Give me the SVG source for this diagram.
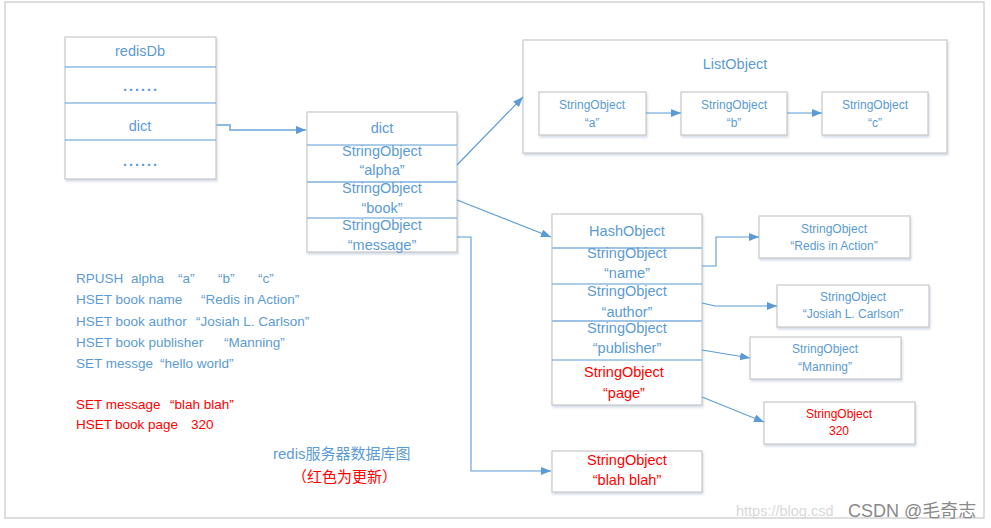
<svg xmlns="http://www.w3.org/2000/svg" width="991" height="528" viewBox="0 0 991 528">
<defs>
<marker id="arr" markerUnits="userSpaceOnUse" markerWidth="12" markerHeight="10" refX="10" refY="4" orient="auto"><path d="M0,0 L10,4 L0,8 z" fill="#5b9bd5"/></marker>
<filter id="sh" x="-5%" y="-5%" width="115%" height="120%"><feDropShadow dx="1" dy="2" stdDeviation="1.2" flood-color="#9fb4cc" flood-opacity="0.45"/></filter>
</defs>
<style>
text{font-family:"Liberation Sans",Arial,"Noto Sans CJK SC",sans-serif;fill:#5b9bd5;}
.c{text-anchor:middle;}
.big{font-size:14.5px;}
.sm{font-size:12px;}
.cmd{font-size:13.5px;white-space:pre;}
.cap{font-size:15px;}
.red{fill:#ff0000;}
.dots{letter-spacing:2px;font-weight:bold;}
.box{fill:#ffffff;stroke:#c9c9c9;stroke-width:1.2;filter:url(#sh);}
.div{stroke:#5b9bd5;stroke-width:1.2;}
.div2{stroke:#9dc3e6;stroke-width:2;}
.con{fill:none;stroke:#5b9bd5;stroke-width:1.1;}
.con2{fill:none;stroke:#8fbbe3;stroke-width:2;}
</style>
<rect x="0" y="0" width="991" height="528" fill="#ffffff"/>
<rect x="5" y="2" width="979" height="516" fill="#ffffff" stroke="#d4d4d4" stroke-width="1.5"/>

<g id="redisDb">
<rect class="box" x="65" y="37" width="151" height="142"/>
<line class="div" x1="65" y1="67" x2="216" y2="67"/>
<line class="div" x1="65" y1="103" x2="216" y2="103"/>
<line class="div" x1="65" y1="140" x2="216" y2="140"/>
<text class="c big" x="140" y="56">redisDb</text>
<text class="c big dots" x="141" y="91">......</text>
<text class="c big" x="140" y="131">dict</text>
<text class="c big dots" x="141" y="166">......</text>
</g>

<g id="dict">
<rect class="box" x="307" y="112" width="150" height="140"/>
<line class="div" x1="307" y1="145" x2="457" y2="145"/>
<line class="div2" x1="307" y1="182" x2="457" y2="182"/>
<line class="div" x1="307" y1="218" x2="457" y2="218"/>
<text class="c big" x="382" y="133">dict</text>
<text class="c big" x="382" y="156">StringObject</text>
<text class="c big" x="382" y="175">“alpha”</text>
<text class="c big" x="382" y="193">StringObject</text>
<text class="c big" x="382" y="213">“book”</text>
<text class="c big" x="382" y="230">StringObject</text>
<text class="c big" x="382" y="250">“message”</text>
</g>

<g id="ListObject">
<rect class="box" x="523" y="40" width="424" height="113"/>
<text class="c big" x="735" y="69">ListObject</text>
</g>
<g id="list_a">
<rect class="box" x="539" y="92" width="107" height="43"/>
<text class="c sm" x="592" y="109">StringObject</text>
<text class="c sm" x="592" y="127">“a”</text>
</g>
<g id="list_b">
<rect class="box" x="681" y="92" width="106" height="43"/>
<text class="c sm" x="734" y="109">StringObject</text>
<text class="c sm" x="734" y="127">“b”</text>
</g>
<g id="list_c">
<rect class="box" x="822" y="92" width="106" height="43"/>
<text class="c sm" x="875" y="109">StringObject</text>
<text class="c sm" x="875" y="127">“c”</text>
</g>

<g id="HashObject">
<rect class="box" x="552" y="214" width="150" height="191"/>
<line class="div2" x1="552" y1="248" x2="702" y2="248"/>
<line class="div" x1="552" y1="284" x2="702" y2="284"/>
<line class="div2" x1="552" y1="321" x2="702" y2="321"/>
<line class="div" x1="552" y1="360" x2="702" y2="360"/>
<text class="c big" x="627" y="236">HashObject</text>
<text class="c big" x="627" y="258">StringObject</text>
<text class="c big" x="627" y="278">“name”</text>
<text class="c big" x="627" y="296">StringObject</text>
<text class="c big" x="627" y="317">“author”</text>
<text class="c big" x="627" y="333">StringObject</text>
<text class="c big" x="627" y="353">“publisher”</text>
<text class="c big red" x="624" y="377">StringObject</text>
<text class="c big red" x="624" y="398">“page”</text>
</g>

<g id="val_name">
<rect class="box" x="759" y="216" width="151" height="42"/>
<text class="c sm" x="834" y="233">StringObject</text>
<text class="c sm" x="834" y="250">“Redis in Action”</text>
</g>
<g id="val_author">
<rect class="box" x="777" y="285" width="152" height="42"/>
<text class="c sm" x="853" y="301">StringObject</text>
<text class="c sm" x="853" y="318">“Josiah L. Carlson”</text>
</g>
<g id="val_publisher">
<rect class="box" x="750" y="337" width="151" height="42"/>
<text class="c sm" x="825" y="353">StringObject</text>
<text class="c sm" x="825" y="371">“Manning”</text>
</g>
<g id="val_page">
<rect class="box" x="764" y="402" width="151" height="42"/>
<text class="c sm red" x="839" y="418">StringObject</text>
<text class="c sm red" x="839" y="435">320</text>
</g>
<g id="val_message">
<rect class="box" x="552" y="451" width="150" height="41"/>
<text class="c big red" x="627" y="465">StringObject</text>
<text class="c big red" x="627" y="485">“blah blah”</text>
</g>

<g id="connectors">
<polyline class="con2" points="216,125 230,125 230,130 306,130" marker-end="url(#arr)"/>
<line class="con" x1="457" y1="165" x2="523" y2="97" marker-end="url(#arr)"/>
<line class="con" x1="457" y1="200" x2="551" y2="237" marker-end="url(#arr)"/>
<polyline class="con" points="457,237 471,237 471,471 551,471" marker-end="url(#arr)"/>
<line class="con" x1="646" y1="113" x2="681" y2="113" marker-end="url(#arr)"/>
<line class="con" x1="787" y1="113" x2="822" y2="113" marker-end="url(#arr)"/>
<polyline class="con" points="702,266 716,266 716,237 759,237" marker-end="url(#arr)"/>
<polyline class="con" points="702,303 715,306 777,306" marker-end="url(#arr)"/>
<line class="con" x1="702" y1="350" x2="750" y2="358" marker-end="url(#arr)"/>
<line class="con" x1="702" y1="397" x2="764" y2="422" marker-end="url(#arr)"/>
</g>

<g id="commands">
<text class="cmd" y="283"><tspan x="76">RPUSH</tspan><tspan x="131">alpha</tspan><tspan x="178">“a”</tspan><tspan x="218">“b”</tspan><tspan x="258">“c”</tspan></text>
<text class="cmd" y="304"><tspan x="76">HSET book name</tspan><tspan x="201">“Redis in Action”</tspan></text>
<text class="cmd" y="326"><tspan x="76">HSET book author</tspan><tspan x="196">“Josiah L. Carlson”</tspan></text>
<text class="cmd" y="347"><tspan x="76">HSET book publisher</tspan><tspan x="224">“Manning”</tspan></text>
<text class="cmd" y="368"><tspan x="76">SET messge</tspan><tspan x="160">“hello world”</tspan></text>
<text class="cmd red" y="409"><tspan x="76">SET message</tspan><tspan x="170">“blah blah”</tspan></text>
<text class="cmd red" y="429"><tspan x="76">HSET</tspan><tspan x="115">book page</tspan><tspan x="191">320</tspan></text>
</g>

<g id="caption">
<text class="cap" x="273" y="459">redis服务器数据库图</text>
<text class="cap red" x="292" y="482">（红色为更新）</text>
</g>

<g id="watermark">
<text x="736" y="516" style="font-size:14.5px;fill:#d8d8d8;">https://blog.csd</text>
<text x="848" y="517" style="font-size:18px;fill:#8a8a8a;">CSDN @毛奇志</text>
</g>
</svg>
